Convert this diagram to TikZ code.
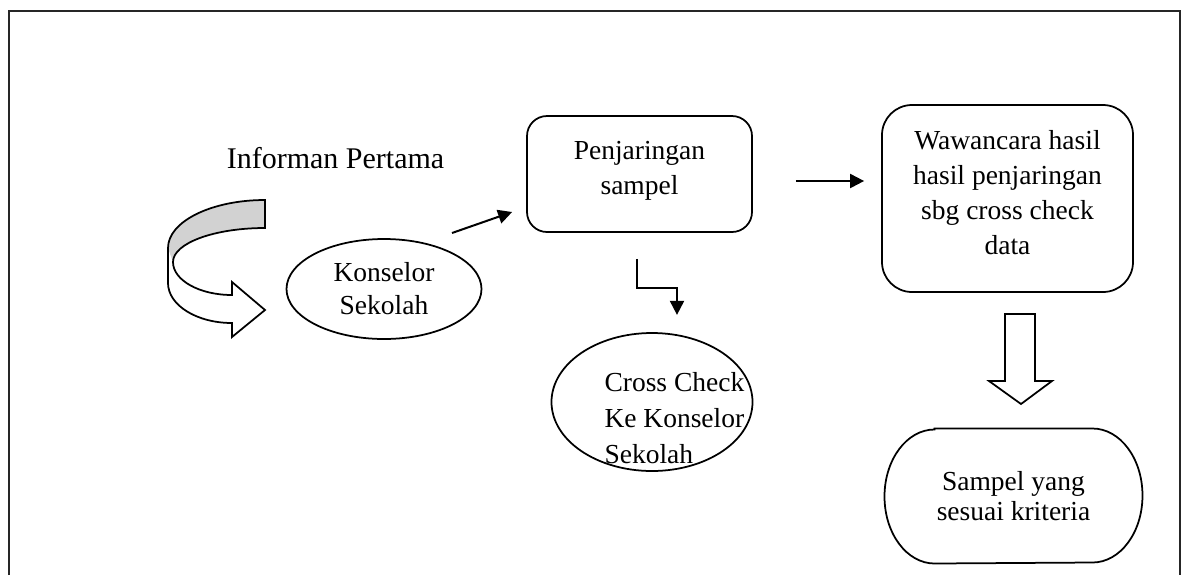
\documentclass[tikz,border=0pt]{standalone}
\usepackage{fontspec}
\setmainfont{Liberation Serif}
\usetikzlibrary{calc,positioning,arrows.meta,shapes.geometric}
\definecolor{bandgray}{RGB}{210,210,210}

\begin{document}
\begin{tikzpicture}[x=0.4pt, y=0.4pt,
                       box/.style={draw, line width=0.7pt, inner sep=0pt, align=center, font=\fontsize{11pt}{14pt}\selectfont},
                       oval/.style={draw, ellipse, line width=0.7pt, inner sep=0pt, align=center},
                       shapeline/.style={draw, line width=0.7pt, line join=miter},
                       arrow/.style={-{Triangle[length=5.6pt, width=5.6pt]}, line width=0.8pt}]
        \useasboundingbox (0,0) rectangle (1181,-575);
        % frame
        \draw[line width=0.9pt, black!85] (9,-575) -- (9,-11) -- (1180,-11) -- (1180,-575);
        % left side
        \node[font=\fontsize{12pt}{14pt}\selectfont] (informan) at (335.5,-158) {Informan Pertama};
        \fill[bandgray] (265,-200) arc[start angle=90, end angle=180, x radius=97, y radius=48]
            -- (173,-262) arc[start angle=180, end angle=90, x radius=92, y radius=34] -- cycle;
        \draw[shapeline] (265,-200) arc[start angle=90, end angle=180, x radius=97, y radius=48]
            -- (168,-283) arc[start angle=180, end angle=270, x radius=64, y radius=40]
            -- (232,-337) -- (265,-310) -- (232,-282) -- (232,-295)
            arc[start angle=270, end angle=180, x radius=59, y radius=33]
            arc[start angle=180, end angle=90, x radius=92, y radius=34] -- cycle;
        \node[oval, minimum width=78pt, minimum height=40pt, font=\fontsize{11pt}{13.2pt}\selectfont] (konselor) at (384,-289) {Konselor\\Sekolah};
        % middle
        \node[box, rounded corners=8pt, minimum width=90pt, minimum height=46.4pt] (penj) at (639.5,-174) {Penjaringan\\sampel\\[-8.8pt]\mbox{}};
        \node[oval, minimum width=80.4pt, minimum height=55.2pt] (cross) at (652,-402) {};
        \node[right, align=left, inner sep=0pt, font=\fontsize{11pt}{14.4pt}\selectfont] (crosstext) at (604,-418) {Cross Check\\Ke Konselor\\Sekolah};
        % right side
        \node[box, rounded corners=12pt, minimum width=100.4pt, minimum height=74.8pt] (wawan) at (1007.5,-198.5) {Wawancara hasil\\hasil penjaringan\\sbg cross check\\data\\[-9.2pt]\mbox{}};
        \node[align=center, inner sep=0pt, minimum width=102.8pt, minimum height=53.6pt, font=\fontsize{11pt}{12pt}\selectfont] (sampel) at (1013.5,-496) {Sampel yang\\sesuai kriteria};
        \draw[shapeline] ([xshift=20pt]sampel.north west) -- ([xshift=-20pt]sampel.north east)
            arc[start angle=90, end angle=-90, x radius=20pt, y radius=26.8pt]
            -- ([xshift=20pt]sampel.south west)
            arc[start angle=270, end angle=90, x radius=20pt, y radius=26.8pt] -- cycle;
        \draw[shapeline] (1005,-314) -- (1035,-314) -- (1035,-381) -- (1052,-381) -- (1021,-404)
            -- (989,-381) -- (1005,-381) -- cycle;
        % arrows
        \draw[arrow] ($(konselor.center)+(68,56)$) -- ($(penj.west)+(-14,-38)$);
        \draw[arrow] ($(penj.east)+(43,-7)$) -- ($(wawan.west)+(-17,17.5)$);
        \draw[arrow] ($(penj.south)+(-2.5,-26)$) |- ++(40,-29) -- ++(0,-27);
    \end{tikzpicture}
\end{document}
